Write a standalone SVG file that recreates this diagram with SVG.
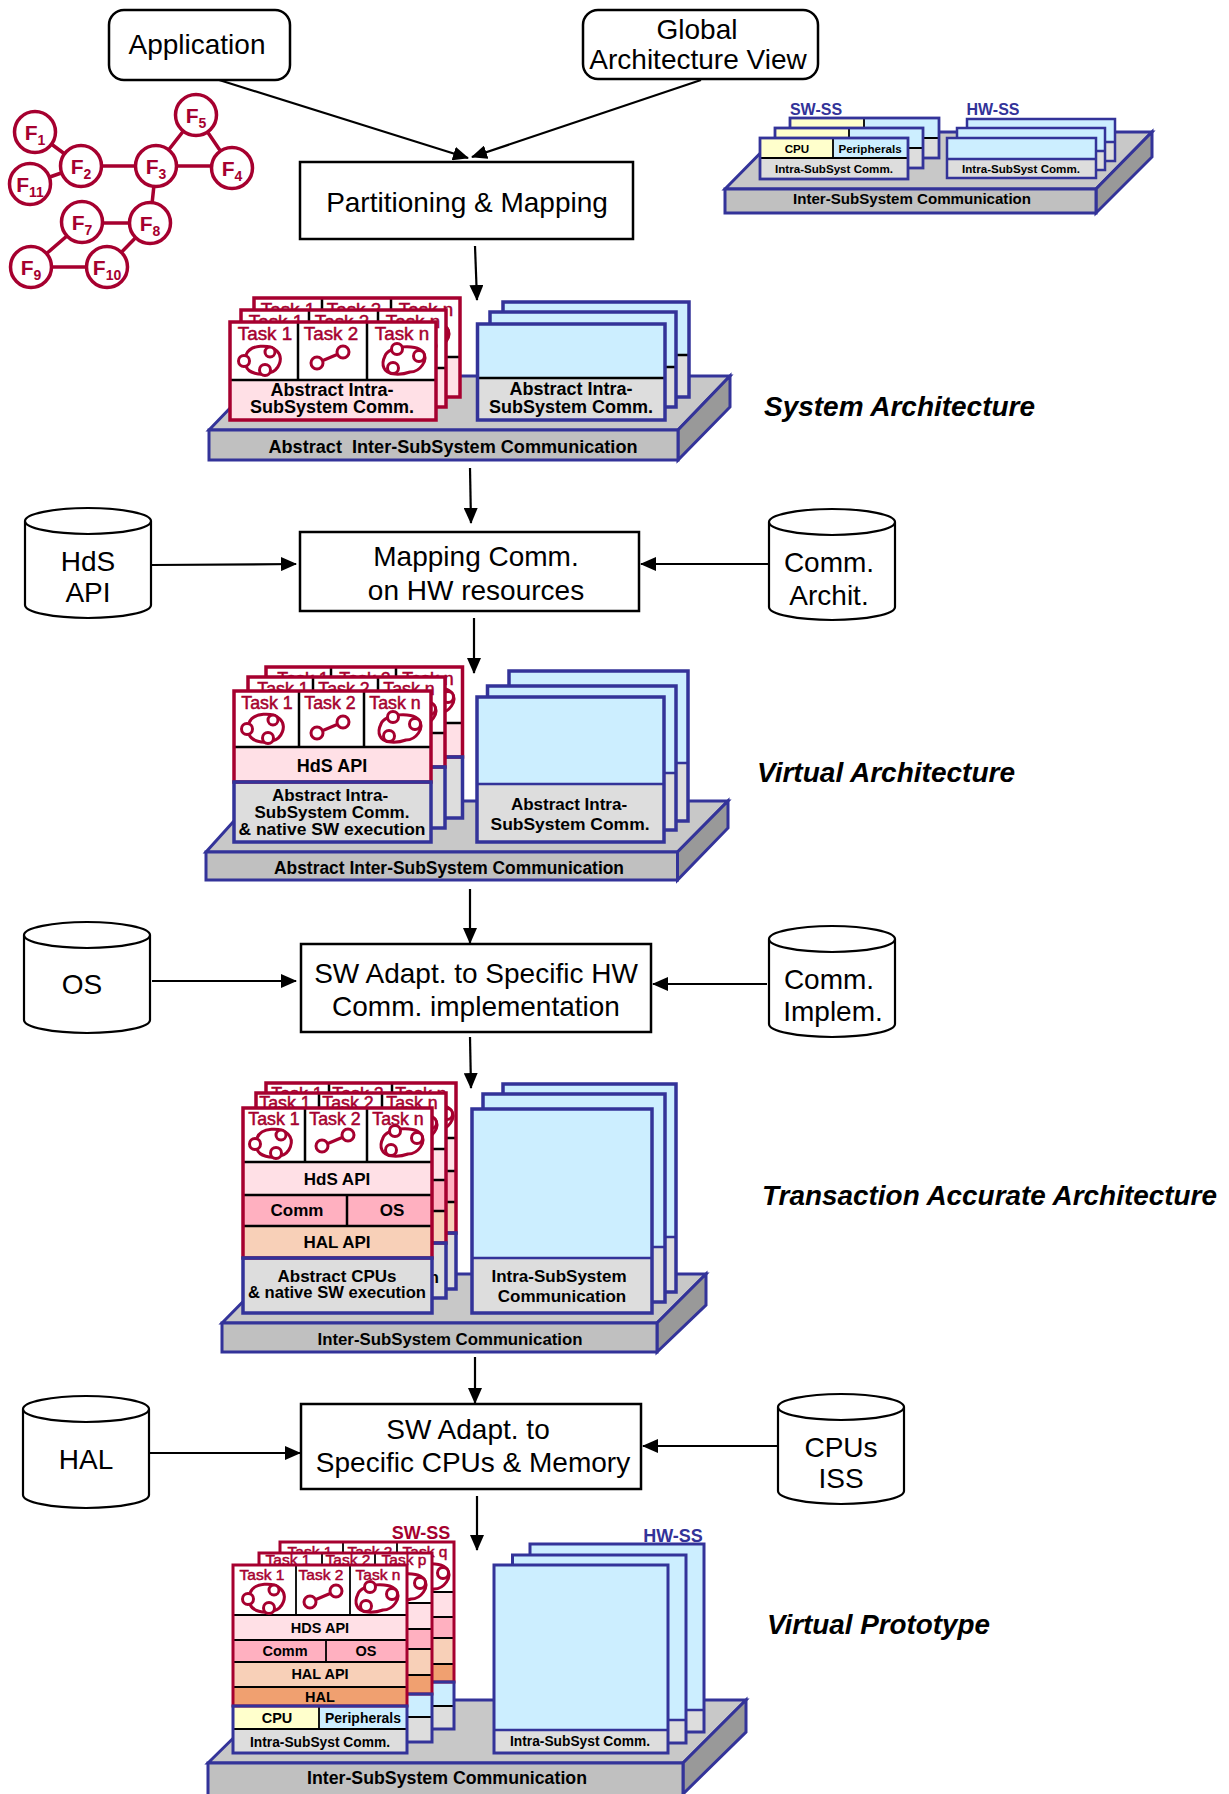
<svg xmlns="http://www.w3.org/2000/svg" width="1229" height="1794" viewBox="0 0 1229 1794">
<style>
text{font-family:"Liberation Sans",Arial,sans-serif;fill:#000;text-anchor:middle}
.big{font-size:28px}
.ital{font-size:28px;font-weight:bold;font-style:italic;text-anchor:start}
.b18{font-size:18px;font-weight:bold}
.b17{font-size:17px;font-weight:bold}
.b14{font-size:14.5px;font-weight:bold}
.b12{font-size:11.6px;font-weight:bold}
.t18,.t17,.t15{fill:#a6002f;stroke:#a6002f;stroke-width:.5px}
.t18{font-size:18.800px}.t17{font-size:17.800px}.t15{font-size:15.500px}
.fn{font-size:21px;font-weight:bold;fill:#a6002f}
.fs{font-size:14px;font-weight:bold;fill:#a6002f}
.lbn{font-size:16px;font-weight:bold;fill:#333399}
.lbr{font-size:18px;font-weight:bold;fill:#a6002f}
.lbb{font-size:18px;font-weight:bold;fill:#333399}
.box{fill:#fff;stroke:#000;stroke-width:2.5}
.cyl{fill:#fff;stroke:#000;stroke-width:2.2}
.arrow{fill:none;stroke:#000;stroke-width:2.2;marker-end:url(#ah)}
.fc{fill:#fff;stroke:#a6002f;stroke-width:3.5}
.fl{fill:none;stroke:#a6002f;stroke-width:3.5}
.pf{fill:#c0c0c0;stroke:#333399;stroke-width:3;stroke-linejoin:miter}
.pt{fill:#c8c8c8;stroke:#333399;stroke-width:3}
.ps{fill:#999;stroke:#333399;stroke-width:3}
.ro{fill:none;stroke:#a6002f;stroke-width:3.5}
.no{fill:none;stroke:#333399;stroke-width:3.5}
.k{fill:none;stroke:#000;stroke-width:2.5}
.kt{fill:none;stroke:#000;stroke-width:1.8}
.nv{fill:none;stroke:#333399;stroke-width:2.5}
.wh{fill:#fff}.lp{fill:#ffe0e6}.pk{fill:#ffb0c0}.pc{fill:#f8d0b8}.or{fill:#f0a070}.ye{fill:#ffffcc}.bl{fill:#cceeff}.gr{fill:#dddddd}
.ic{fill:none;stroke:#a6002f;stroke-width:3}
.ic circle{fill:#fff}
</style>
<defs>
<marker id="ah" markerUnits="userSpaceOnUse" markerWidth="16" markerHeight="14" refX="15" refY="7" orient="auto"><path d="M0 0L16 7L0 14z" fill="#000"/></marker>
<g id="i3" class="ic"><path d="M-14-5C-10-16 10-16 17-9C24-2 19 11 9 13C0 16-12 13-14 6"/><circle cx="10" cy="-8" r="5"/><circle cx="-16" cy="1" r="5.500"/><circle cx="5" cy="10" r="5.500"/></g>
<g id="i2" class="ic"><path d="M-13 6L13-5"/><circle cx="13" cy="-5" r="6"/><circle cx="-13" cy="6" r="6"/></g>
<g id="in" class="ic"><path d="M-19-4C-16-14 12-17 19-8C25 0 16 12 6 12C-2 15-17 16-20 8C-22 4-21 0-19-4z"/><circle cx="-7" cy="-11" r="5.500"/><circle cx="15" cy="-4" r="5.500"/><circle cx="-11" cy="8" r="5.500"/></g>
</defs>

<g id="connectors">
<path class="arrow" d="M216 79L468 158"/>
<path class="arrow" d="M701 80L472 157"/>
<path class="arrow" d="M475 246L477 300"/>
<path class="arrow" d="M470 468L471 523"/>
<path class="arrow" d="M474 618L474 673"/>
<path class="arrow" d="M470 889L470 943"/>
<path class="arrow" d="M470 1037L471 1088"/>
<path class="arrow" d="M475 1357L475 1403"/>
<path class="arrow" d="M477 1496L477 1550"/>
<path class="arrow" d="M151 565L296 564"/>
<path class="arrow" d="M768 564L641 564"/>
<path class="arrow" d="M152 981L296 981"/>
<path class="arrow" d="M767 984L653 984"/>
<path class="arrow" d="M150 1453L300 1453"/>
<path class="arrow" d="M778 1446L643 1446"/>
</g>

<g id="application"><rect class="box" x="109" y="10" width="181" height="70" rx="15"/><text class="big" x="197" y="54">Application</text></g>
<g id="global-view"><rect class="box" x="583" y="10" width="235" height="69" rx="15"/><text class="big" x="697" y="39">Global</text><text class="big" x="698" y="69">Architecture View</text></g>
<g id="partitioning"><rect class="box" x="300" y="162" width="333" height="77"/><text class="big" x="467" y="212">Partitioning &amp; Mapping</text></g>

<g id="function-graph">
<path class="fl" d="M35 132L81 166M30 184L81 166M81 166H232M156 166L196 115L232 168M156 166L150 223M150 223H82L31 267H107L150 223"/>
<circle class="fc" cx="35" cy="132" r="20.500"/><circle class="fc" cx="81" cy="166" r="20.500"/><circle class="fc" cx="30" cy="184" r="20.500"/><circle class="fc" cx="156" cy="166" r="20.500"/><circle class="fc" cx="196" cy="115" r="20.500"/><circle class="fc" cx="232" cy="168" r="20.500"/><circle class="fc" cx="150" cy="223" r="20.500"/><circle class="fc" cx="82" cy="222" r="20.500"/><circle class="fc" cx="31" cy="267" r="20.500"/><circle class="fc" cx="107" cy="267" r="20.500"/>
<text class="fn" x="35" y="140">F<tspan class="fs" dy="5">1</tspan></text>
<text class="fn" x="81" y="174">F<tspan class="fs" dy="5">2</tspan></text>
<text class="fn" x="30" y="192">F<tspan class="fs" dy="5">11</tspan></text>
<text class="fn" x="156" y="174">F<tspan class="fs" dy="5">3</tspan></text>
<text class="fn" x="196" y="123">F<tspan class="fs" dy="5">5</tspan></text>
<text class="fn" x="232" y="176">F<tspan class="fs" dy="5">4</tspan></text>
<text class="fn" x="150" y="231">F<tspan class="fs" dy="5">8</tspan></text>
<text class="fn" x="82" y="230">F<tspan class="fs" dy="5">7</tspan></text>
<text class="fn" x="31" y="275">F<tspan class="fs" dy="5">9</tspan></text>
<text class="fn" x="107" y="275">F<tspan class="fs" dy="5">10</tspan></text>
</g>

<g id="legend-platform">
<path class="pt" d="M725 189L781 132H1152L1096 189z"/><path class="ps" d="M1096 189L1152 132V157L1096 213z"/><rect class="pf" x="725" y="189" width="371" height="24"/>
<text class="b14" x="912" y="204" textLength="238" lengthAdjust="spacingAndGlyphs">Inter-SubSystem Communication</text>
<g><rect class="gr" x="790" y="118" width="149" height="40"/><rect class="bl" x="790" y="118" width="149" height="20"/><rect class="ye" x="790" y="118" width="74" height="20"/><path class="kt" d="M790 138H939M864 118V138"/><rect class="no" x="790" y="118" width="149" height="40" style="stroke-width:2.8"/></g>
<g><rect class="gr" x="775" y="128" width="148" height="40"/><rect class="bl" x="775" y="128" width="148" height="20"/><rect class="ye" x="775" y="128" width="74" height="20"/><path class="kt" d="M775 148H923M849 128V148"/><rect class="no" x="775" y="128" width="148" height="40" style="stroke-width:2.8"/></g>
<g><rect class="gr" x="760" y="138" width="148" height="41"/><rect class="bl" x="760" y="138" width="148" height="20"/><rect class="ye" x="760" y="138" width="73" height="20"/><path class="kt" d="M760 158H908M833 138V158"/><rect class="no" x="760" y="138" width="148" height="41" style="stroke-width:2.8"/>
<text class="b12" x="797" y="153">CPU</text><text class="b12" x="870" y="153">Peripherals</text><text class="b12" x="834" y="173">Intra-SubSyst Comm.</text></g>
<g><rect class="gr" x="967" y="119" width="148" height="42"/><rect class="bl" x="967" y="119" width="148" height="23"/><path class="nv" d="M967 142H1115"/><rect class="no" x="967" y="119" width="148" height="42" style="stroke-width:2.5"/></g>
<g><rect class="gr" x="957" y="128" width="148" height="42"/><rect class="bl" x="957" y="128" width="148" height="23"/><path class="nv" d="M957 151H1105"/><rect class="no" x="957" y="128" width="148" height="42" style="stroke-width:2.5"/></g>
<g><rect class="gr" x="947" y="138" width="149" height="40"/><rect class="bl" x="947" y="138" width="149" height="21"/><path class="nv" d="M947 159H1096"/><rect class="no" x="947" y="138" width="149" height="40" style="stroke-width:2.5"/>
<text class="b12" x="1021" y="173">Intra-SubSyst Comm.</text></g>
<text class="lbn" x="816" y="115">SW-SS</text><text class="lbn" x="993" y="115">HW-SS</text>
</g>

<g id="system-architecture">
<path class="pt" d="M209 430L261 376H730L678 430z"/><path class="ps" d="M678 430L730 376V407L678 460z"/><rect class="pf" x="209" y="430" width="469" height="30"/>
<text class="b18" x="453" y="453" textLength="369" lengthAdjust="spacingAndGlyphs" style="white-space:pre" xml:space="preserve">Abstract  Inter-SubSystem Communication</text>
<g><rect class="lp" x="254" y="298" width="206" height="99"/><rect class="wh" x="254" y="298" width="206" height="59"/><path class="k" d="M254 357H460M322 298V357M391 298V357"/><rect class="ro" x="254" y="298" width="206" height="99"/><text class="t18" x="288" y="316">Task 1</text><text class="t18" x="354" y="316">Task 2</text><text class="t18" x="426" y="316">Task n</text><use href="#in" x="428" y="336"/></g>
<g><rect class="lp" x="241" y="310" width="205" height="97"/><rect class="wh" x="241" y="310" width="205" height="58"/><path class="k" d="M241 368H446M309 310V368M378 310V368"/><rect class="ro" x="241" y="310" width="205" height="97"/><text class="t18" x="276" y="328">Task 1</text><text class="t18" x="342" y="328">Task 2</text><text class="t18" x="413" y="328">Task n</text><use href="#in" x="415" y="348"/></g>
<g><rect class="lp" x="230" y="322" width="206" height="98"/><rect class="wh" x="230" y="322" width="206" height="58"/><path class="k" d="M230 380H436M298 322V380M367 322V380"/><rect class="ro" x="230" y="322" width="206" height="98"/>
<text class="t18" x="265" y="340">Task 1</text><text class="t18" x="331" y="340">Task 2</text><text class="t18" x="402" y="340">Task n</text>
<use href="#i3" x="260" y="360"/><use href="#i2" x="330" y="357"/><use href="#in" x="404" y="360"/>
<text class="b18" x="332" y="396">Abstract Intra-</text><text class="b18" x="332" y="413">SubSystem Comm.</text></g>
<g><rect class="gr" x="503" y="302" width="186" height="95"/><rect class="bl" x="503" y="302" width="186" height="53"/><path class="k" d="M503 355H689"/><rect class="no" x="503" y="302" width="186" height="95"/></g>
<g><rect class="gr" x="490" y="312" width="186" height="95"/><rect class="bl" x="490" y="312" width="186" height="55"/><path class="k" d="M490 367H676"/><rect class="no" x="490" y="312" width="186" height="95"/></g>
<g><rect class="gr" x="477.500" y="324" width="187.500" height="96"/><rect class="bl" x="477.500" y="324" width="187.500" height="54"/><path class="k" d="M477.500 378H665"/><rect class="no" x="477.500" y="324" width="187.500" height="96"/>
<text class="b18" x="571" y="395">Abstract Intra-</text><text class="b18" x="571" y="413">SubSystem Comm.</text></g>
</g>
<text id="label-system" class="ital" x="764" y="416" textLength="271" lengthAdjust="spacingAndGlyphs">System Architecture</text>

<g id="hds-api"><path class="cyl" d="M25 521a63 13 0 0 1 126 0v84a63 13 0 0 1-126 0zM25 521a63 13 0 0 0 126 0"/><text class="big" x="88" y="571">HdS</text><text class="big" x="88" y="602">API</text></g>
<g id="mapping-comm"><rect class="box" x="300" y="532" width="339" height="79"/><text class="big" x="476" y="566">Mapping Comm.</text><text class="big" x="476" y="600">on HW resources</text></g>
<g id="comm-archit"><path class="cyl" d="M769 522a63 13 0 0 1 126 0v85a63 13 0 0 1-126 0zM769 522a63 13 0 0 0 126 0"/><text class="big" x="829" y="572">Comm.</text><text class="big" x="829" y="605">Archit.</text></g>

<g id="virtual-architecture">
<path class="pt" d="M206 852L252 801H728L677.500 852z"/><path class="ps" d="M677.500 852L728 801V828L677.500 880z"/><rect class="pf" x="206" y="852" width="471.500" height="28"/>
<text class="b18" x="449" y="874" textLength="350" lengthAdjust="spacingAndGlyphs">Abstract Inter-SubSystem Communication</text>
<g><rect class="lp" x="266" y="667" width="196.500" height="90"/><rect class="wh" x="266" y="667" width="196.500" height="56"/><path class="k" d="M266 723H462.500M331 667V723M396 667V723"/><rect class="gr" x="266" y="757" width="196.500" height="61"/><rect class="ro" x="266" y="667" width="196.500" height="90"/><rect class="no" x="266" y="757" width="196.500" height="61"/><text class="t17" x="303" y="685">Task 1</text><text class="t17" x="365" y="685">Task 2</text><text class="t17" x="428" y="685">Task n</text><use href="#in" x="433" y="701"/></g>
<g><rect class="lp" x="248" y="677" width="197" height="90"/><rect class="wh" x="248" y="677" width="197" height="56"/><path class="k" d="M248 733H445M313 677V733M378 677V733"/><rect class="gr" x="248" y="767" width="197" height="61"/><rect class="ro" x="248" y="677" width="197" height="90"/><rect class="no" x="248" y="767" width="197" height="61"/><text class="t17" x="283" y="695">Task 1</text><text class="t17" x="344" y="695">Task 2</text><text class="t17" x="409" y="695">Task n</text><use href="#in" x="415" y="713"/></g>
<g><rect class="lp" x="234" y="691" width="197" height="91"/><rect class="wh" x="234" y="691" width="197" height="56"/><path class="k" d="M234 747H431M299 691V747M364 691V747"/><rect class="gr" x="234" y="782" width="197" height="60"/><rect class="ro" x="234" y="691" width="197" height="91"/><rect class="no" x="234" y="782" width="197" height="60"/>
<text class="t17" x="267" y="709">Task 1</text><text class="t17" x="330" y="709">Task 2</text><text class="t17" x="395" y="709">Task n</text>
<use href="#i3" x="263" y="728"/><use href="#i2" x="330" y="727"/><use href="#in" x="400" y="728"/>
<text class="b18" x="332" y="772">HdS API</text>
<text class="b17" x="330" y="801">Abstract Intra-</text><text class="b17" x="332" y="818">SubSystem Comm.</text><text class="b17" x="332" y="835" textLength="187" lengthAdjust="spacingAndGlyphs">&amp; native SW execution</text></g>
<g><rect class="gr" x="509" y="671" width="179" height="150"/><rect class="bl" x="509" y="671" width="179" height="92"/><path class="nv" d="M509 763H688"/><rect class="no" x="509" y="671" width="179" height="150"/></g>
<g><rect class="gr" x="487.500" y="686" width="188.500" height="144"/><rect class="bl" x="487.500" y="686" width="188.500" height="87"/><path class="nv" d="M487.500 773H676"/><rect class="no" x="487.500" y="686" width="188.500" height="144"/></g>
<g><rect class="gr" x="477" y="697" width="187" height="145"/><rect class="bl" x="477" y="697" width="187" height="87"/><path class="nv" d="M477 784H664"/><rect class="no" x="477" y="697" width="187" height="145"/>
<text class="b17" x="569" y="810">Abstract Intra-</text><text class="b17" x="570" y="830" textLength="159" lengthAdjust="spacingAndGlyphs">SubSystem Comm.</text></g>
</g>
<text id="label-virtual" class="ital" x="757" y="782" textLength="258" lengthAdjust="spacingAndGlyphs">Virtual Architecture</text>

<g id="os"><path class="cyl" d="M24 935a63 13 0 0 1 126 0v85a63 13 0 0 1-126 0zM24 935a63 13 0 0 0 126 0"/><text class="big" x="82" y="994">OS</text></g>
<g id="sw-adapt-hw"><rect class="box" x="301" y="944" width="350" height="88"/><text class="big" x="476" y="983">SW Adapt. to Specific HW</text><text class="big" x="476" y="1016">Comm. implementation</text></g>
<g id="comm-implem"><path class="cyl" d="M769 939a63 13 0 0 1 126 0v85a63 13 0 0 1-126 0zM769 939a63 13 0 0 0 126 0"/><text class="big" x="829" y="989">Comm.</text><text class="big" x="833" y="1021">Implem.</text></g>

<g id="transaction-architecture">
<path class="pt" d="M222 1323L270 1274H706L657 1323z"/><path class="ps" d="M657 1323L706 1274V1305L657 1352z"/><rect class="pf" x="222" y="1323" width="435" height="29"/>
<text class="b17" x="450" y="1345" textLength="265" lengthAdjust="spacingAndGlyphs">Inter-SubSystem Communication</text>
<g><rect class="lp" x="266" y="1083" width="190" height="150"/><rect class="wh" x="266" y="1083" width="190" height="55"/><rect class="pk" x="266" y="1171" width="190" height="31"/><rect class="pc" x="266" y="1202" width="190" height="31"/><path class="k" d="M266 1138H456M266 1171H456M266 1202H456M329 1083V1138M392 1083V1138"/><rect class="gr" x="266" y="1233" width="190" height="56"/><rect class="ro" x="266" y="1083" width="190" height="150"/><rect class="no" x="266" y="1233" width="190" height="56"/><text class="t17" x="297" y="1100">Task 1</text><text class="t17" x="358" y="1100">Task 2</text><text class="t17" x="421" y="1100">Task n</text><use href="#in" x="432" y="1118"/><text class="b17" x="347" y="1273" textLength="178" lengthAdjust="spacingAndGlyphs">&amp; native SW execution</text></g>
<g><rect class="lp" x="256" y="1093" width="190" height="150"/><rect class="wh" x="256" y="1093" width="190" height="56"/><rect class="pk" x="256" y="1180" width="190" height="31"/><rect class="pc" x="256" y="1211" width="190" height="32"/><path class="k" d="M256 1149H446M256 1180H446M256 1211H446M319 1093V1149M382 1093V1149"/><rect class="gr" x="256" y="1243" width="190" height="55"/><rect class="ro" x="256" y="1093" width="190" height="150"/><rect class="no" x="256" y="1243" width="190" height="55"/><text class="t17" x="285" y="1109">Task 1</text><text class="t17" x="348" y="1109">Task 2</text><text class="t17" x="412" y="1109">Task n</text><use href="#in" x="416" y="1127"/><text class="b17" x="350" y="1283" textLength="178" lengthAdjust="spacingAndGlyphs">&amp; native SW execution</text></g>
<g><rect class="lp" x="243" y="1108" width="189" height="150"/><rect class="wh" x="243" y="1108" width="189" height="54"/><rect class="pk" x="243" y="1195" width="189" height="31"/><rect class="pc" x="243" y="1226" width="189" height="32"/><path class="k" d="M243 1162H432M243 1195H432M243 1226H432M305 1108V1162M367 1108V1162M347 1195V1226"/><rect class="gr" x="243" y="1258" width="189" height="55"/><rect class="ro" x="243" y="1108" width="189" height="150"/><rect class="no" x="243" y="1258" width="189" height="55"/>
<text class="t17" x="274" y="1125">Task 1</text><text class="t17" x="335" y="1125">Task 2</text><text class="t17" x="398" y="1125">Task n</text>
<use href="#i3" x="271" y="1143"/><use href="#i2" x="335" y="1140"/><use href="#in" x="402" y="1142"/>
<text class="b17" x="337" y="1185">HdS API</text><text class="b17" x="297" y="1216">Comm</text><text class="b17" x="392" y="1216">OS</text><text class="b17" x="337" y="1248">HAL API</text>
<text class="b17" x="337" y="1282">Abstract CPUs</text><text class="b17" x="337" y="1298" textLength="178" lengthAdjust="spacingAndGlyphs">&amp; native SW execution</text></g>
<g><rect class="gr" x="503" y="1084" width="173" height="208"/><rect class="bl" x="503" y="1084" width="173" height="153"/><path class="nv" d="M503 1237H676"/><rect class="no" x="503" y="1084" width="173" height="208"/></g>
<g><rect class="gr" x="483" y="1094" width="182" height="208"/><rect class="bl" x="483" y="1094" width="182" height="153"/><path class="nv" d="M483 1247H665"/><rect class="no" x="483" y="1094" width="182" height="208"/></g>
<g><rect class="gr" x="472" y="1109" width="180" height="204"/><rect class="bl" x="472" y="1109" width="180" height="149"/><path class="nv" d="M472 1258H652"/><rect class="no" x="472" y="1109" width="180" height="204"/>
<text class="b17" x="559" y="1282">Intra-SubSystem</text><text class="b17" x="562" y="1302">Communication</text></g>
</g>
<text id="label-transaction" class="ital" x="762" y="1205" textLength="455" lengthAdjust="spacingAndGlyphs">Transaction Accurate Architecture</text>

<g id="hal"><path class="cyl" d="M23 1409a63 13 0 0 1 126 0v86a63 13 0 0 1-126 0zM23 1409a63 13 0 0 0 126 0"/><text class="big" x="86" y="1469">HAL</text></g>
<g id="sw-adapt-cpu"><rect class="box" x="301" y="1404" width="340" height="85"/><text class="big" x="468" y="1439">SW Adapt. to</text><text class="big" x="473" y="1472">Specific CPUs &amp; Memory</text></g>
<g id="cpus-iss"><path class="cyl" d="M778 1407a63 13 0 0 1 126 0v84a63 13 0 0 1-126 0zM778 1407a63 13 0 0 0 126 0"/><text class="big" x="841" y="1457">CPUs</text><text class="big" x="841" y="1488">ISS</text></g>

<g id="virtual-prototype">
<path class="pt" d="M208 1763L272 1700H746L683 1763z"/><path class="ps" d="M683 1763L746 1700V1732L683 1794z"/><rect class="pf" x="208" y="1763" width="475" height="33"/>
<text class="b18" x="447" y="1784" textLength="280" lengthAdjust="spacingAndGlyphs">Inter-SubSystem Communication</text>
<g><rect class="lp" x="280" y="1542" width="174" height="140"/><rect class="wh" x="280" y="1542" width="174" height="50"/><rect class="pk" x="280" y="1617" width="174" height="21"/><rect class="pc" x="280" y="1638" width="174" height="26"/><rect class="or" x="280" y="1664" width="174" height="18"/><path class="kt" d="M280 1592H454M280 1617H454M280 1638H454M280 1664H454M343 1542V1592M397 1542V1592"/><rect class="ye" x="280" y="1682" width="87" height="24"/><rect class="bl" x="367" y="1682" width="87" height="24"/><rect class="gr" x="280" y="1706" width="174" height="23"/><path class="kt" d="M280 1706H454"/><rect class="ro" x="280" y="1542" width="174" height="140" style="stroke-width:3"/><rect class="no" x="280" y="1682" width="174" height="47" style="stroke-width:3"/><text class="t15" x="310" y="1557">Task 1</text><text class="t15" x="370" y="1557">Task 2</text><text class="t15" x="425" y="1557">Task q</text><use href="#in" x="428" y="1577"/></g>
<g><rect class="lp" x="259" y="1553" width="173" height="141"/><rect class="wh" x="259" y="1553" width="173" height="50"/><rect class="pk" x="259" y="1629" width="173" height="20"/><rect class="pc" x="259" y="1649" width="173" height="26"/><rect class="or" x="259" y="1675" width="173" height="19"/><path class="kt" d="M259 1603H432M259 1629H432M259 1649H432M259 1675H432M322 1553V1603M375 1553V1603"/><rect class="ye" x="259" y="1694" width="87" height="23"/><rect class="bl" x="346" y="1694" width="86" height="23"/><rect class="gr" x="259" y="1717" width="173" height="25"/><path class="kt" d="M259 1717H432"/><rect class="ro" x="259" y="1553" width="173" height="141" style="stroke-width:3"/><rect class="no" x="259" y="1694" width="173" height="48" style="stroke-width:3"/><text class="t15" x="288" y="1565">Task 1</text><text class="t15" x="348" y="1565">Task 2</text><text class="t15" x="404" y="1565">Task p</text><use href="#in" x="405" y="1587"/></g>
<g><rect class="lp" x="233" y="1565" width="174" height="141"/><rect class="wh" x="233" y="1565" width="174" height="50"/><rect class="pk" x="233" y="1640" width="174" height="22"/><rect class="pc" x="233" y="1662" width="174" height="25"/><rect class="or" x="233" y="1687" width="174" height="19"/><path class="kt" d="M233 1615H407M233 1640H407M233 1662H407M233 1687H407M296 1565V1615M350 1565V1615M326 1640V1662"/><rect class="ye" x="233" y="1706" width="86" height="23"/><rect class="bl" x="319" y="1706" width="88" height="23"/><rect class="gr" x="233" y="1729" width="174" height="24"/><path class="kt" d="M233 1729H407M319 1706V1729"/><rect class="ro" x="233" y="1565" width="174" height="141" style="stroke-width:3"/><rect class="no" x="233" y="1706" width="174" height="47" style="stroke-width:3"/>
<text class="t15" x="262" y="1580">Task 1</text><text class="t15" x="321" y="1580">Task 2</text><text class="t15" x="378" y="1580">Task n</text>
<use href="#i3" x="264" y="1598"/><use href="#i2" x="323" y="1596"/><use href="#in" x="377" y="1598"/>
<text class="b14" x="320" y="1633">HDS API</text><text class="b14" x="285" y="1656">Comm</text><text class="b14" x="366" y="1656">OS</text><text class="b14" x="320" y="1679">HAL API</text><text class="b14" x="320" y="1702">HAL</text><text class="b14" x="277" y="1723">CPU</text><text class="b14" x="363" y="1723" textLength="76" lengthAdjust="spacingAndGlyphs">Peripherals</text><text class="b14" x="320" y="1747" textLength="140" lengthAdjust="spacingAndGlyphs">Intra-SubSyst Comm.</text></g>
<g><rect class="gr" x="530" y="1544" width="174" height="188"/><rect class="bl" x="530" y="1544" width="174" height="166"/><path class="nv" d="M530 1710H704"/><rect class="no" x="530" y="1544" width="174" height="188" style="stroke-width:3"/></g>
<g><rect class="gr" x="512.500" y="1555" width="173.500" height="188"/><rect class="bl" x="512.500" y="1555" width="173.500" height="165"/><path class="nv" d="M512.500 1720H686"/><rect class="no" x="512.500" y="1555" width="173.500" height="188" style="stroke-width:3"/></g>
<g><rect class="gr" x="494" y="1565" width="174" height="188"/><rect class="bl" x="494" y="1565" width="174" height="165"/><path class="nv" d="M494 1730H668"/><rect class="no" x="494" y="1565" width="174" height="188" style="stroke-width:3"/>
<text class="b14" x="580" y="1746" textLength="140" lengthAdjust="spacingAndGlyphs">Intra-SubSyst Comm.</text></g>
<text class="lbr" x="421" y="1539">SW-SS</text><text class="lbb" x="673" y="1542">HW-SS</text>
</g>
<text id="label-prototype" class="ital" x="767" y="1634" textLength="223" lengthAdjust="spacingAndGlyphs">Virtual Prototype</text>
</svg>
